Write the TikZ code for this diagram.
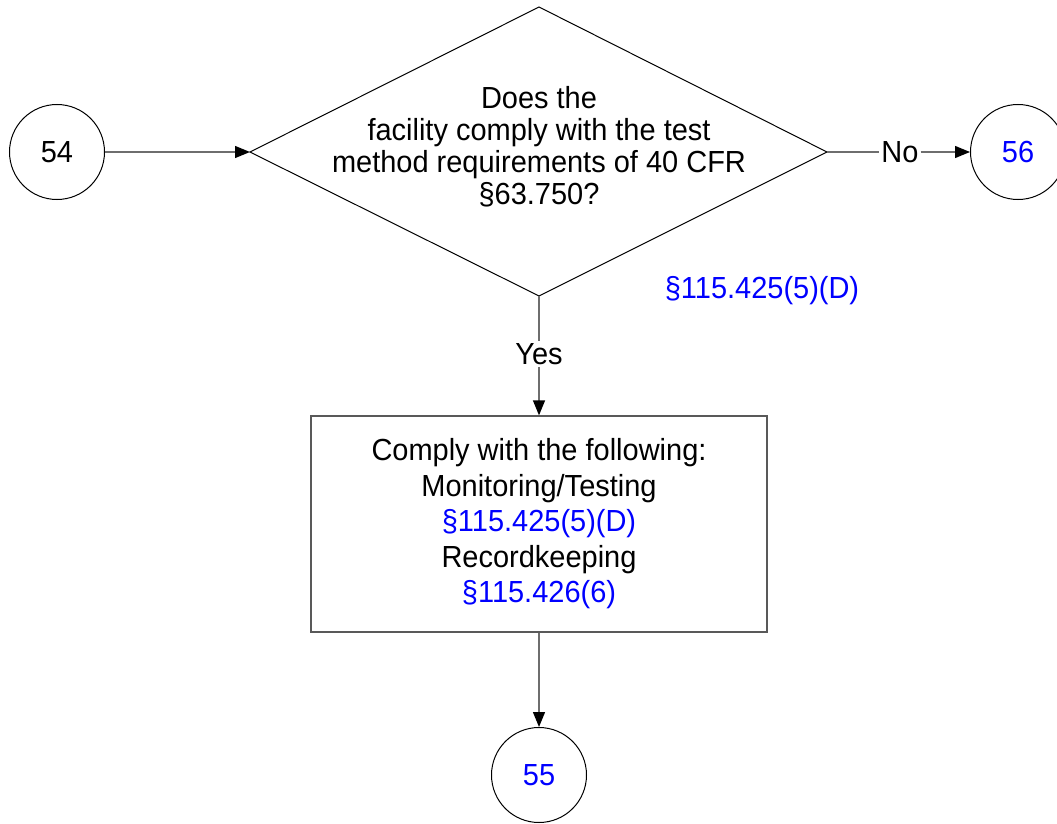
\documentclass[tikz,border=0pt]{standalone}
\usepackage{fontspec}
\setmainfont{Liberation Sans}[FakeStretch=0.95]
\usetikzlibrary{arrows.meta}
\definecolor{refblue}{RGB}{0,0,255}
\definecolor{conn}{RGB}{110,110,110}
\tikzset{
  shape line/.style={draw=black, line width=1pt},
  conline/.style={draw=conn, line width=1.3pt},
  arr/.style={conline, -{Triangle[length=15pt,width=12pt,black]}},
  circ/.style={circle, shape line, minimum size=95pt, inner sep=0pt, font=\fontsize{30.5}{34}\selectfont},
  lbl/.style={inner sep=2pt, font=\fontsize{30.5}{34}\selectfont},
  diatext/.style={align=center, inner sep=0pt, font=\fontsize{30.5}{32}\selectfont},
  boxnode/.style={draw=black!65, line width=1.3pt, minimum width=456pt, minimum height=216pt, align=center, inner sep=0pt, font=\fontsize{30.5}{35.5}\selectfont},
}
\begin{document}
\begin{tikzpicture}[x=1pt,y=-1pt]
\useasboundingbox (0,0) rectangle (1057,824);
% circles
\node[circ] (c54) at (57,152) {54};
\node[circ, text=refblue] (c56) at (1018,152) {56};
\node[circ, text=refblue] (c55) at (539,775) {55};
% diamond
\coordinate (dl) at (250,152);
\coordinate (dt) at (539,7);
\coordinate (dr) at (827,152);
\coordinate (db) at (539,296);
\draw[shape line] (dl) -- (dt) -- (dr) -- (db) -- cycle;
\node[diatext] (q) at (539,147) {Does the\\facility comply with the test\\method requirements of 40 CFR\\\S63.750?};
% reference label
\node[lbl, text=refblue] (ref1) at (762,291) {\S115.425(5)(D)};
% box
\node[boxnode] (box) at (539,524) {Comply with the following:\\Monitoring/Testing\\\textcolor{refblue}{\S115.425(5)(D)}\\Recordkeeping\\\textcolor{refblue}{\S115.426(6)}};
% labels on connectors
\node[lbl] (no) at (900,152) {No};
\node[lbl] (yes) at (539,354) {Yes};
% connectors
\draw[arr] (c54.east) -- (dl);
\draw[conline] (dr) -- (no.west);
\draw[arr] (no.east) -- (c56.west);
\draw[conline] (db) -- (yes.north);
\draw[arr] (yes.south) -- (box.north);
\draw[arr] (box.south) -- (c55.north);
\end{tikzpicture}
\end{document}
